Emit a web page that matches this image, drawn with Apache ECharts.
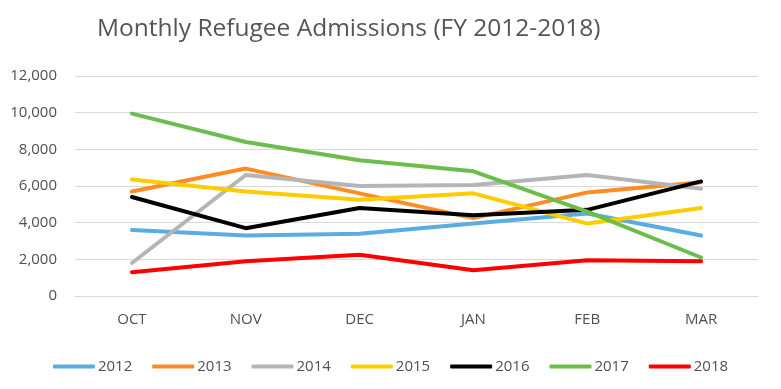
<!DOCTYPE html>
<html>
<head>
<meta charset="utf-8">
<script src="https://cdn.jsdelivr.net/npm/echarts@6/dist/echarts.min.js"></script>
<style>html,body{margin:0;padding:0;background:#fff}#c{width:781px;height:389px}</style>
</head>
<body>
<div id="c"></div>
<script>
var months = ['OCT', 'NOV', 'DEC', 'JAN', 'FEB', 'MAR'];
var fy2012 = [3600, 3300, 3400, 3950, 4500, 3300];
var fy2013 = [5700, 6950, 5600, 4250, 5650, 6200];
var fy2014 = [1800, 6600, 6000, 6050, 6600, 5850];
var fy2015 = [6350, 5700, 5250, 5600, 3950, 4800];
var fy2016 = [5400, 3700, 4800, 4400, 4700, 6250];
var fy2017 = [9950, 8400, 7400, 6800, 4600, 2100];
var fy2018 = [1300, 1900, 2250, 1400, 1950, 1900];
var seriesNames = ['2012', '2013', '2014', '2015', '2016', '2017', '2018'];
var seriesData = [fy2012, fy2013, fy2014, fy2015, fy2016, fy2017, fy2018];
var colors = ['#5aade0', '#ff8c22', '#b5b5b5', '#ffcc00', '#000000', '#6cbd4c', '#ff0000'];

var font = 'Open Sans';
var chart = echarts.init(document.getElementById('c'));
chart.setOption({
  animation: false,
  color: colors,
  title: {
    text: 'Monthly Refugee Admissions (FY 2012-2018)',
    left: 92, top: 12,
    textStyle: { fontFamily: font, fontSize: 24.5, fontWeight: 'normal', color: '#555555' }
  },
  legend: {
    left: 'center', top: 354,
    itemWidth: 42, itemHeight: 4, itemGap: 20,
    icon: 'roundRect',
    textStyle: { fontFamily: font, fontSize: 15, color: '#505050', padding: [0, 0, 0, -2] },
    data: seriesNames
  },
  grid: { left: 75, right: 23, top: 76, bottom: 93, containLabel: false },
  xAxis: {
    type: 'category',
    data: months,
    boundaryGap: true,
    axisLine: { show: true, lineStyle: { color: '#d9d9d9', width: 1 } },
    axisTick: { show: false },
    axisLabel: { fontFamily: font, fontSize: 15, color: '#505050', margin: 16 }
  },
  yAxis: {
    type: 'value',
    min: 0, max: 12000, interval: 2000,
    axisLine: { show: false },
    axisTick: { show: false },
    splitLine: { lineStyle: { color: '#d9d9d9', width: 1 } },
    axisLabel: {
      fontFamily: font, fontSize: 15, color: '#505050', margin: 18,
      formatter: function (v) { return v.toLocaleString('en-US'); }
    }
  },
  series: seriesNames.map(function (n, i) {
    return {
      name: n, type: 'line', data: seriesData[i],
      showSymbol: false, symbol: 'none',
      lineStyle: { width: 4, color: colors[i], join: 'round', cap: 'round' },
      itemStyle: { color: colors[i] }
    };
  })
});
</script>
</body>
</html>
